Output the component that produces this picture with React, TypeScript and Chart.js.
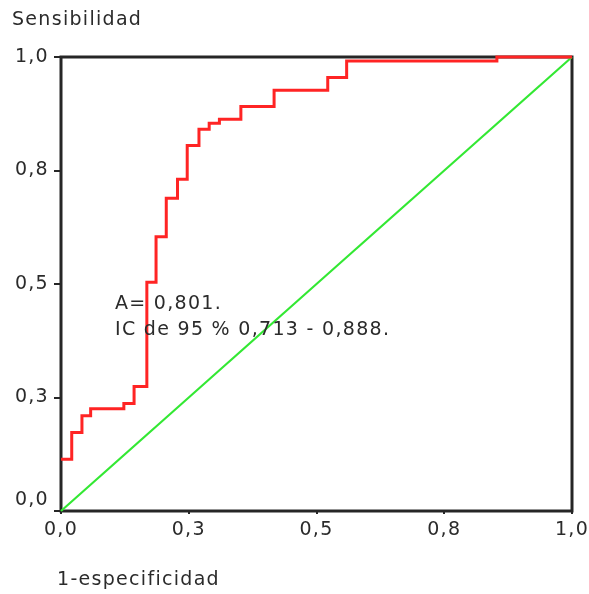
import { useEffect, useRef } from 'react';
import { Chart, registerables } from 'chart.js';

Chart.register(...registerables);

// ROC curve corners (1 - specificity, sensitivity)
const fpr = [0, 0.021, 0.041, 0.058, 0.123, 0.143, 0.168, 0.186, 0.206, 0.228, 0.247, 0.27, 0.29, 0.31, 0.352, 0.417, 0.522, 0.559, 0.853, 1];
const tpr = [0.114, 0.114, 0.173, 0.21, 0.225, 0.237, 0.274, 0.504, 0.604, 0.689, 0.731, 0.805, 0.841, 0.854, 0.863, 0.891, 0.927, 0.955, 0.991, 1];

// Reference diagonal
const diagX = [0, 1];
const diagY = [0, 1];

const tickValues = [0, 0.25, 0.5, 0.75, 1];
const tickLabels = ['0,0', '0,3', '0,5', '0,8', '1,0'];

const yTitle = 'Sensibilidad';
const xTitle = '1-especificidad';
const annotationLines = ['A= 0,801.', 'IC de 95 % 0,713 - 0,888.'];

const FONT_FAMILY = '"DejaVu Sans", Verdana, sans-serif';
const FONT_SIZE = 19;
const TEXT_COLOR = '#2b2b2b';
const FRAME_COLOR = '#262626';
const SPACING = '1.3px';

const labelFor = (v: number) => {
  const i = tickValues.findIndex((t) => Math.abs(t - v) < 1e-9);
  return i >= 0 ? tickLabels[i] : '';
};

const decor = {
  id: 'decor',
  beforeDraw(chart: any) {
    const ctx = chart.ctx;
    (ctx as any).letterSpacing = SPACING;
  },
  beforeDatasetsDraw(chart: any) {
    const { ctx, chartArea } = chart;
    ctx.save();
    ctx.strokeStyle = FRAME_COLOR;
    ctx.lineWidth = 3;
    ctx.strokeRect(chartArea.left, chartArea.top, chartArea.right - chartArea.left, chartArea.bottom - chartArea.top);
    ctx.restore();
  },
  afterDraw(chart: any) {
    const { ctx, chartArea } = chart;
    const yScale = chart.scales.y;
    ctx.save();
    (ctx as any).letterSpacing = SPACING;
    ctx.fillStyle = TEXT_COLOR;
    ctx.font = `${FONT_SIZE}px ${FONT_FAMILY}`;
    // y tick labels
    ctx.textAlign = 'right';
    ctx.textBaseline = 'middle';
    yScale.ticks.forEach((t: any) => {
      let y = yScale.getPixelForValue(t.value);
      if (t.value === 0) y -= 11;
      ctx.fillText(labelFor(t.value), chartArea.left - 12, y);
    });
    // titles
    ctx.textAlign = 'left';
    ctx.fillText(yTitle, 12, 20);
    ctx.fillText(xTitle, 57, 580);
    // annotation
    ctx.fillText(annotationLines[0], chartArea.left + 54, chartArea.top + 247);
    ctx.fillText(annotationLines[1], chartArea.left + 54, chartArea.top + 273);
    ctx.restore();
  },
};

export default function App() {
  const ref = useRef<HTMLCanvasElement>(null);

  useEffect(() => {
    document.body.style.margin = '0';
    const canvas = ref.current;
    if (!canvas) return;
    const chart = new Chart(canvas, {
      type: 'line',
      data: {
        datasets: [
          {
            label: 'ROC',
            data: fpr.map((x, i) => ({ x, y: tpr[i] })),
            borderColor: '#ff2424',
            borderWidth: 3,
            pointRadius: 0,
            stepped: 'after',
            fill: false,
            clip: false as any,
          },
          {
            label: 'Diagonal',
            data: diagX.map((x, i) => ({ x, y: diagY[i] })),
            borderColor: '#33e833',
            borderWidth: 2.2,
            pointRadius: 0,
            fill: false,
            clip: false as any,
          },
        ],
      },
      options: {
        animation: false,
        responsive: false,
        devicePixelRatio: 1,
        layout: { padding: { left: 0, top: 57, right: 17, bottom: 43 } },
        plugins: {
          legend: { display: false },
          tooltip: { enabled: false },
          title: { display: false },
        },
        scales: {
          x: {
            type: 'linear',
            min: 0,
            max: 1,
            afterBuildTicks: (s: any) => {
              s.ticks = tickValues.map((v) => ({ value: v }));
            },
            afterFit: (s: any) => {
              s.height = 40;
              s.paddingLeft = 0;
              s.paddingRight = 0;
            },
            ticks: {
              callback: (v: any) => labelFor(Number(v)),
              color: TEXT_COLOR,
              font: { family: FONT_FAMILY, size: FONT_SIZE },
              padding: 5,
              maxRotation: 0,
              autoSkip: false,
            },
            grid: {
              drawOnChartArea: false,
              drawTicks: true,
              tickLength: 3,
              tickColor: FRAME_COLOR,
              lineWidth: 2,
            },
            border: { display: false },
          },
          y: {
            type: 'linear',
            min: 0,
            max: 1,
            afterBuildTicks: (s: any) => {
              s.ticks = tickValues.map((v) => ({ value: v }));
            },
            afterFit: (s: any) => {
              s.width = 61;
              s.paddingTop = 0;
              s.paddingBottom = 0;
            },
            ticks: {
              display: false,
            },
            grid: {
              drawOnChartArea: false,
              drawTicks: true,
              tickLength: 7,
              tickColor: FRAME_COLOR,
              lineWidth: 2,
            },
            border: { display: false },
          },
        },
      },
      plugins: [decor],
    });
    return () => chart.destroy();
  }, []);

  return (
    <div style={{ width: 589, height: 594 }}>
      <canvas ref={ref} width={589} height={594} style={{ display: 'block' }} />
    </div>
  );
}
